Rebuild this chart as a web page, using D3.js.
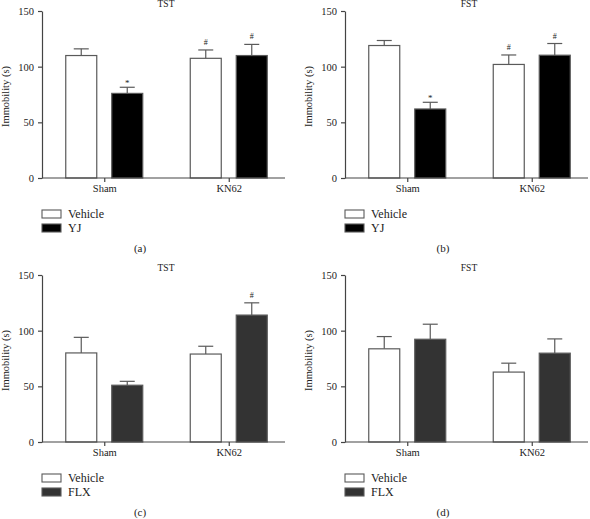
<!DOCTYPE html>
<html>
<head>
<meta charset="utf-8">
<script src="https://cdn.jsdelivr.net/npm/d3@7"></script>
<style>
  html, body { margin: 0; padding: 0; background: #fff; }
  svg { display: block; font-family: "Liberation Serif", "DejaVu Serif", serif; }
</style>
</head>
<body>
<svg id="chart" width="590" height="519"></svg>
<script>
// ---- data ----
const groups = ["Sham", "KN62"];
const yTicks = [0, 50, 100, 150];

// panel (a) TST, Vehicle vs YJ
const aVehicle = [110, 107.5];
const aVehicleSem = [6, 7.5];
const aYJ = [76, 110];
const aYJSem = [5.5, 10];
const aVehicleMarks = ["", "#"];
const aYJMarks = ["*", "#"];

// panel (b) FST, Vehicle vs YJ
const bVehicle = [119, 102];
const bVehicleSem = [4.5, 8.5];
const bYJ = [62, 110.3];
const bYJSem = [6, 10.5];
const bVehicleMarks = ["", "#"];
const bYJMarks = ["*", "#"];

// panel (c) TST, Vehicle vs FLX
const cVehicle = [80, 79];
const cVehicleSem = [14, 7];
const cFLX = [51, 114];
const cFLXSem = [3.5, 11];
const cVehicleMarks = ["", ""];
const cFLXMarks = ["", "#"];

// panel (d) FST, Vehicle vs FLX
const dVehicle = [83.7, 62.8];
const dVehicleSem = [11, 8];
const dFLX = [92.3, 79.8];
const dFLXSem = [13.5, 12.8];
const dVehicleMarks = ["", ""];
const dFLXMarks = ["", ""];

const panels = [
  { axisX: 42, top: 11, title: "TST", caption: "(a)", drug: "YJ", drugColor: "#000000",
    veh: aVehicle, vehSem: aVehicleSem, vehMarks: aVehicleMarks, drugVals: aYJ, drugSem: aYJSem, drugMarks: aYJMarks },
  { axisX: 345, top: 11, title: "FST", caption: "(b)", drug: "YJ", drugColor: "#000000",
    veh: bVehicle, vehSem: bVehicleSem, vehMarks: bVehicleMarks, drugVals: bYJ, drugSem: bYJSem, drugMarks: bYJMarks },
  { axisX: 42, top: 275, title: "TST", caption: "(c)", drug: "FLX", drugColor: "#333333",
    veh: cVehicle, vehSem: cVehicleSem, vehMarks: cVehicleMarks, drugVals: cFLX, drugSem: cFLXSem, drugMarks: cFLXMarks },
  { axisX: 345, top: 275, title: "FST", caption: "(d)", drug: "FLX", drugColor: "#333333",
    veh: dVehicle, vehSem: dVehicleSem, vehMarks: dVehicleMarks, drugVals: dFLX, drugSem: dFLXSem, drugMarks: dFLXMarks }
];

const svg = d3.select("#chart");
const plotH = 167, plotW = 243;
const axisColor = "#444";
const outline = "#5a5a5a";

panels.forEach(p => {
  const g = svg.append("g").attr("transform", `translate(${p.axisX},${p.top})`);
  const y = d3.scaleLinear().domain([0, 150]).range([plotH, 0]);
  const x0 = d3.scalePoint().domain(groups).range([0, 249]).padding(0.5);
  const series = ["Vehicle", p.drug];
  const x1 = d3.scaleBand().domain(series).range([-38.5, 38.5]).paddingInner(0.326);

  const data = [];
  groups.forEach((grp, i) => {
    data.push({ grp, s: "Vehicle", v: p.veh[i], e: p.vehSem[i], m: p.vehMarks[i], fill: "#ffffff" });
    data.push({ grp, s: p.drug, v: p.drugVals[i], e: p.drugSem[i], m: p.drugMarks[i], fill: p.drugColor });
  });

  // error bars (behind bars)
  const eb = g.append("g");
  data.forEach(d => {
    const cx = x0(d.grp) + x1(d.s) + x1.bandwidth() / 2;
    eb.append("line").attr("x1", cx).attr("x2", cx)
      .attr("y1", y(d.v)).attr("y2", y(d.v + d.e))
      .attr("stroke", outline).attr("stroke-width", 1.2);
    eb.append("line").attr("x1", cx - 7.5).attr("x2", cx + 7.5)
      .attr("y1", y(d.v + d.e)).attr("y2", y(d.v + d.e))
      .attr("stroke", outline).attr("stroke-width", 1.2);
    if (d.m) {
      g.append("text").attr("x", cx)
        .attr("y", y(d.v + d.e) - (d.m === "*" ? 1 : 5))
        .attr("text-anchor", "middle")
        .attr("font-size", d.m === "*" ? 9 : 8)
        .attr("fill", "#222").text(d.m);
    }
  });

  // bars
  g.selectAll("rect.bar").data(data).enter().append("rect")
    .attr("class", "bar")
    .attr("x", d => x0(d.grp) + x1(d.s))
    .attr("width", x1.bandwidth())
    .attr("y", d => y(d.v))
    .attr("height", d => y(0) - y(d.v))
    .attr("fill", d => d.fill)
    .attr("stroke", outline).attr("stroke-width", 1.2);

  // y axis
  const ya = g.append("g").call(d3.axisLeft(y).tickValues(yTicks).tickSize(4).tickSizeOuter(0).tickPadding(4));
  ya.select(".domain").attr("stroke", axisColor).attr("stroke-width", 1.2);
  ya.selectAll(".tick line").attr("stroke", axisColor).attr("stroke-width", 1.2);
  ya.selectAll("text").attr("font-family", "Liberation Serif").attr("font-size", 10.5).attr("fill", "#222");

  // x axis
  const xa = g.append("g").attr("transform", `translate(0,${plotH})`)
    .call(d3.axisBottom(x0).tickSize(4).tickSizeOuter(0).tickPadding(3));
  xa.select(".domain").remove();
  xa.append("line").attr("x1", 0).attr("x2", plotW).attr("y1", 0).attr("y2", 0)
    .attr("stroke", axisColor).attr("stroke-width", 1.2);
  xa.selectAll(".tick line").attr("stroke", axisColor).attr("stroke-width", 1.2);
  xa.selectAll("text").attr("font-family", "Liberation Serif").attr("font-size", 10.5).attr("fill", "#222");

  // y label
  g.append("text")
    .attr("transform", `translate(-33,${plotH / 2 + 2}) rotate(-90)`)
    .attr("text-anchor", "middle").attr("font-size", 10.5).attr("fill", "#222")
    .text("Immobility (s)");

  // title
  g.append("text").attr("x", 124).attr("y", -4)
    .attr("text-anchor", "middle").attr("font-size", 9.5).attr("fill", "#222")
    .text(p.title);

  // legend
  series.forEach((s, i) => {
    const ly = plotH + 32 + i * 14;
    g.append("rect").attr("x", 0).attr("y", ly).attr("width", 19).attr("height", 8)
      .attr("fill", i === 0 ? "#ffffff" : p.drugColor)
      .attr("stroke", outline).attr("stroke-width", 1.1);
    g.append("text").attr("x", 26).attr("y", ly + 8)
      .attr("font-size", 12).attr("fill", "#222").text(s);
  });

  // caption
  g.append("text").attr("x", 98).attr("y", plotH + 74)
    .attr("text-anchor", "middle").attr("font-size", 11).attr("fill", "#222")
    .text(p.caption);
});
</script>
</body>
</html>
